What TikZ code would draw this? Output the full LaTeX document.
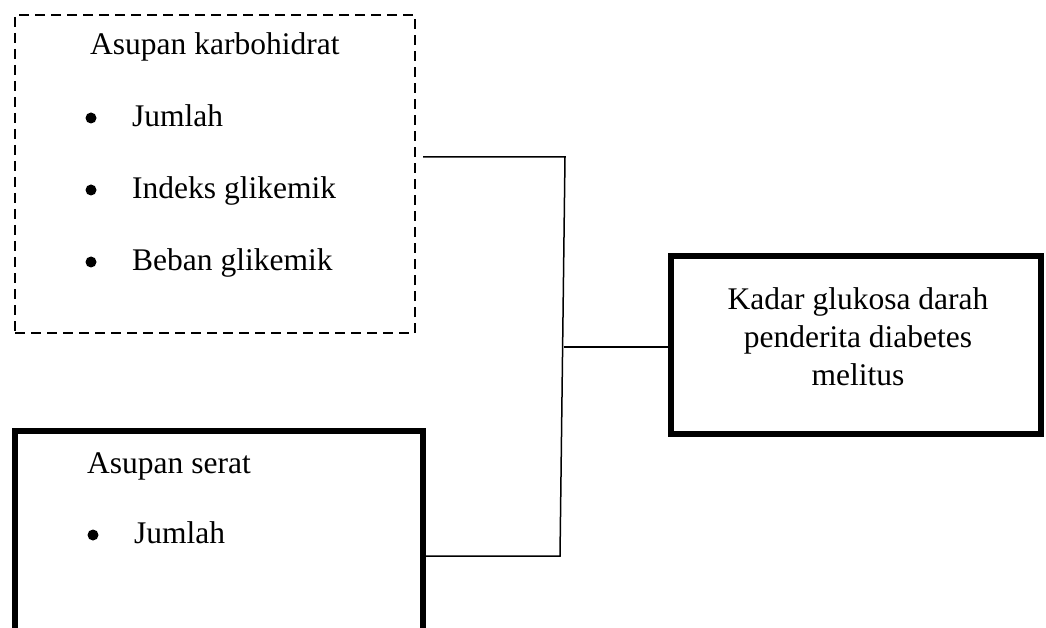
\documentclass[tikz,border=0pt]{standalone}
\usepackage{fontspec}
\setmainfont{Liberation Serif}
\usepackage{tikz}

\begin{document}
\begin{tikzpicture}[x=1pt, y=-1pt,
    every node/.style={font=\fontsize{31.5}{38}\selectfont},
    dashbox/.style={draw, line width=2.8pt, dash pattern=on 10pt off 6pt, inner sep=0pt},
    thickbox/.style={draw, line width=6pt, inner sep=0pt},
    link/.style={line width=1.5pt},
    item/.style={anchor=base west, inner sep=0pt},
    dot/.style={circle, fill, inner sep=0pt, minimum size=11pt}]
    \useasboundingbox (0,0) rectangle (1046,628);
    \clip (0,0) rectangle (1046,628);

    % boxes
    \node[dashbox, minimum width=400pt, minimum height=318pt] (karbo) at (215,174) {};
    \node[thickbox, minimum width=408pt, minimum height=280pt] (serat) at (219,570.5) {};
    \node[thickbox, minimum width=370pt, minimum height=178pt] (kadar) at (856,345) {};

    % texts
    \node[item] (karbotitle) at (90,55) {Asupan karbohidrat};
    \node[item] (k1) at (132,127) {Jumlah};
    \node[item] (k2) at (132,199) {Indeks glikemik};
    \node[item] (k3) at (132,270) {Beban glikemik};
    \foreach \i in {1,2,3}
        \node[dot] (kb\i) at (91,{46+72*\i}) {};

    \node[item] (serattitle) at (87,473) {Asupan serat};
    \node[item] (s1) at (134,543) {Jumlah};
    \node[dot] (sb1) at (93,535) {};

    \node[align=center] (kadartext) at (858,337) {Kadar glukosa darah\\penderita diabetes\\melitus};

    % connectors
    \coordinate (kout) at (423,157);
    \coordinate (jtop) at (565,157);
    \coordinate (jmid) at (563.5,347);
    \coordinate (jbot) at (560,556);
    \draw[link] (kout) -- (jtop) -- (jbot) -- (serat.east |- jbot);
    \draw[link] (jmid) -- (kadar.west |- jmid);
\end{tikzpicture}
\end{document}
